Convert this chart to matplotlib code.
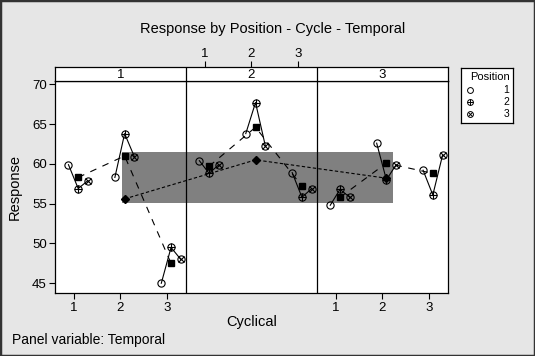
import matplotlib.pyplot as plt
from matplotlib.patches import Rectangle

# narrow look: use a condensed face when one exists, else Liberation Sans
plt.rcParams['font.family'] = ['Liberation Sans', 'DejaVu Sans']
plt.rcParams['font.stretch'] = 'condensed'

# data
temporal = [1, 2, 3]
cyclical = [1, 2, 3]
position_labels = ['1', '2', '3']

# response per temporal panel: rows = cyclical, columns = position 1, 2, 3
resp_t1 = [[59.9, 56.9, 57.9], [58.3, 63.8, 60.9], [45.0, 49.5, 48.0]]
resp_t2 = [[60.4, 58.8, 59.9], [63.8, 67.7, 62.3], [58.9, 55.8, 56.9]]
resp_t3 = [[54.8, 56.8, 55.8], [62.6, 58.0, 59.9], [59.2, 56.1, 61.1]]
responses = [resp_t1, resp_t2, resp_t3]

# mean over positions for each cyclical level (filled squares)
cycle_mean_t1 = [58.3, 61.0, 47.5]
cycle_mean_t2 = [59.7, 64.6, 57.2]
cycle_mean_t3 = [55.8, 60.1, 58.8]
cycle_means = [cycle_mean_t1, cycle_mean_t2, cycle_mean_t3]

# mean per temporal panel (filled diamonds)
temporal_mean = [55.6, 60.5, 58.2]

# shaded band
band_low, band_high = 55.1, 61.5

# layout of the panels on one x axis
panel_w = 2.82
x_lo = 0.59
pos_off = [-0.12, 0.09, 0.30]
mean_off = 0.09


def xpos(t, c):
    return (t - 1) * panel_w + c


fig = plt.figure(figsize=(5.35, 3.56), dpi=100, facecolor='#e6e6e6')
ax = fig.add_axes([0.1028, 0.1761, 0.734, 0.5964])
strip = fig.add_axes([0.1028, 0.7725, 0.734, 0.0393])

x_hi = x_lo + 3 * panel_w
ax.set_xlim(x_lo, x_hi)
ax.set_ylim(43.74, 70.41)

# band
bx0 = xpos(temporal[0], 2) + 0.04
bx1 = xpos(temporal[-1], 2) + 0.24
ax.add_patch(Rectangle((bx0, band_low), bx1 - bx0, band_high - band_low,
                       facecolor='#808080', edgecolor='none', zorder=1))

mk = dict(color='k', mfc='none', mec='k', mew=0.8, ls='none', zorder=4)
for i, t in enumerate(temporal):
    for j, c in enumerate(cyclical):
        xs = [xpos(t, c) + o for o in pos_off]
        ys = responses[i][j]
        ax.plot(xs, ys, color='k', lw=0.8, zorder=3)
        ax.plot(xs[0], ys[0], marker='o', ms=5.2, **mk)
        ax.plot(xs[1], ys[1], marker='o', ms=5.2, **mk)
        ax.plot(xs[1], ys[1], marker='+', ms=5.2, **mk)
        ax.plot(xs[2], ys[2], marker='o', ms=5.2, **mk)
        ax.plot(xs[2], ys[2], marker='x', ms=3.7, **mk)
    mx = [xpos(t, c) + mean_off for c in cyclical]
    ax.plot(mx, cycle_means[i], color='k', lw=0.8, dashes=(6, 6),
            marker='s', ms=4.5, zorder=3)

dx = [xpos(t, 2) + mean_off for t in temporal]
ax.plot(dx, temporal_mean, color='k', lw=0.8, dashes=(3, 2),
        marker='D', ms=4.5, zorder=3)

# panel dividers
for k in (1, 2):
    ax.axvline(x_lo + k * panel_w, color='k', lw=0.9)
    strip.axvline(x_lo + k * panel_w, color='k', lw=0.9)

ax.set_facecolor('white')
for s in ax.spines.values():
    s.set_linewidth(0.9)
ax.set_yticks([45, 50, 55, 60, 65, 70])
bt = [xpos(1, c) for c in cyclical] + [xpos(3, c) for c in cyclical]
ax.set_xticks(bt)
ax.set_xticklabels([str(c) for c in cyclical] * 2)
ax.tick_params(direction='out', length=4, width=0.8, labelsize=9.5, pad=2)
ax.set_ylabel('Response', fontsize=10.5, labelpad=7)
ax.set_xlabel('Cyclical', fontsize=10.5, labelpad=1)

# strip with temporal levels
strip.set_xlim(x_lo, x_hi)
strip.set_ylim(0, 1)
strip.set_facecolor('white')
strip.set_yticks([])
strip.xaxis.tick_top()
strip.set_xticks([xpos(2, c) for c in cyclical])
strip.set_xticklabels([str(c) for c in cyclical])
strip.tick_params(direction='out', length=4, width=0.8, labelsize=9.5, pad=1)
for s in strip.spines.values():
    s.set_linewidth(0.9)
for t in temporal:
    strip.text(x_lo + (t - 0.5) * panel_w, 0.45, str(t), ha='center', va='center', fontsize=9.5)

fig.text(0.509, 0.9177, 'Response by Position - Cycle - Temporal', ha='center', va='center', fontsize=10.5)
fig.text(0.022, 0.045, 'Panel variable: Temporal', ha='left', va='center', fontsize=10)

# legend box
lg = fig.add_axes([0.861, 0.6537, 0.0983, 0.1545])
lg.set_xlim(0, 1)
lg.set_ylim(0, 1)
lg.set_xticks([])
lg.set_yticks([])
lg.set_facecolor('white')
for s in lg.spines.values():
    s.set_linewidth(0.9)
lg.text(0.93, 0.85, 'Position', ha='right', va='center', fontsize=8)
ly = [0.60, 0.39, 0.175]
lmk = dict(mfc='none', mec='k', mew=0.7, ls='none')
lg.plot(0.17, ly[0], marker='o', ms=4.2, **lmk)
lg.plot(0.17, ly[1], marker='o', ms=4.2, **lmk)
lg.plot(0.17, ly[1], marker='+', ms=4.2, **lmk)
lg.plot(0.17, ly[2], marker='o', ms=4.2, **lmk)
lg.plot(0.17, ly[2], marker='x', ms=3.0, **lmk)
for y, lab in zip(ly, position_labels):
    lg.text(0.93, y, lab, ha='right', va='center', fontsize=7.5)

fig.add_artist(Rectangle((0, 0), 1, 1, transform=fig.transFigure, fill=False,
                         edgecolor='#333333', lw=2.5))

fig.savefig('out.png', dpi=100, facecolor=fig.get_facecolor())
